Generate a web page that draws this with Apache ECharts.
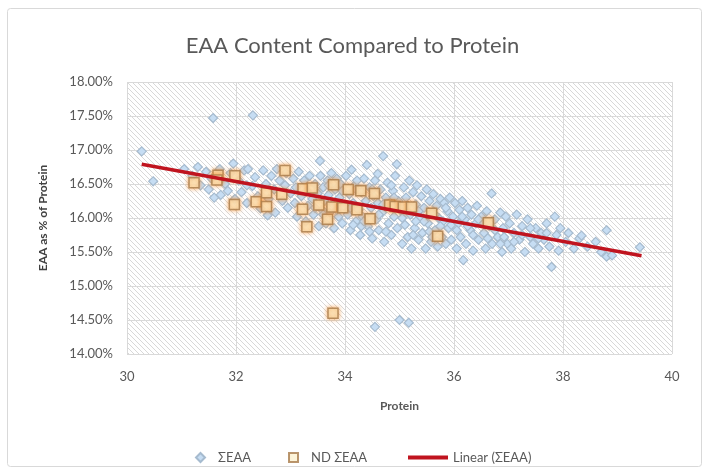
<!DOCTYPE html>
<html><head><meta charset="utf-8">
<script src="https://cdn.jsdelivr.net/npm/echarts@6/dist/echarts.min.js"></script>
<style>html,body{margin:0;padding:0;background:#fff}#c{width:705px;height:470px}</style>
</head><body><div id="c"></div>
<script>
// ΣEAA : [Protein, EAA % of protein]
const sumEAA = [
[30.27,16.98],[30.48,16.54],[31.05,16.72],
[31.2,16.62],[31.3,16.75],[31.35,16.48],[31.45,16.68],[31.5,16.42],[31.55,16.58],[31.6,16.30],[31.7,16.72],[31.72,16.34],[31.8,16.50],[31.85,16.40],[31.9,16.66],[31.95,16.80],[31.98,16.28],[31.58,17.47],
[32.05,16.55],[32.1,16.38],[32.15,16.70],[32.2,16.22],[32.22,16.72],[32.3,16.47],[32.31,17.51],[32.35,16.60],[32.4,16.32],[32.45,16.14],[32.5,16.70],[32.55,16.50],[32.6,16.28],[32.65,16.62],[32.7,16.42],[32.72,16.08],[32.8,16.55],[32.85,16.25],[32.9,16.48],[32.92,16.66],[32.95,16.15],[33.0,16.36],[32.58,16.04],[32.75,16.72],[32.2,16.48],
[33.05,16.58],[33.08,16.22],[33.1,16.45],[33.12,16.02],[33.15,16.68],[33.2,16.32],[33.25,16.55],[33.28,15.95],[33.3,16.40],[33.32,16.18],[33.35,16.62],[33.4,16.28],[33.42,16.05],[33.45,16.50],[33.5,16.36],[33.52,15.88],[33.54,16.84],[33.55,16.62],[33.58,16.12],[33.6,16.45],[33.62,16.25],[33.65,15.92],[33.68,16.55],[33.7,16.34],[33.72,16.08],[33.75,16.66],[33.78,16.20],[33.8,15.85],[33.82,16.42],[33.85,16.58],[33.88,16.02],[33.9,16.30],[33.92,16.50],[33.95,15.92],[33.98,16.18],
[33.6,16.05],[33.7,16.48],[33.85,16.12],[33.95,16.40],[33.45,16.15],
[34.02,16.62],[34.05,16.05],[34.08,16.35],[34.1,15.82],[34.12,16.71],[34.15,16.22],[34.18,16.48],[34.2,15.95],[34.22,16.55],[34.25,16.12],[34.28,15.75],[34.3,16.38],[34.32,16.02],[34.35,16.58],[34.38,16.25],[34.4,16.78],[34.42,15.88],[34.45,16.45],[34.48,16.15],[34.5,15.70],[34.52,16.32],[34.55,16.55],[34.58,15.98],[34.6,16.22],[34.62,15.82],[34.65,16.42],[34.68,16.08],[34.7,16.91],[34.72,15.65],[34.75,16.30],[34.78,16.52],[34.8,15.92],[34.82,16.18],[34.85,15.75],[34.88,16.40],[34.9,16.02],[34.92,16.62],[34.95,16.79],[34.96,15.85],[34.98,16.25],[34.4,16.0],[34.6,16.65],[34.3,15.88],[34.85,16.48],[34.55,14.40],
[34.1,16.15],[34.2,16.42],[34.35,15.95],[34.5,16.42],[34.62,16.05],[34.7,16.2],[34.75,15.8],[34.9,16.3],[34.45,15.8],[34.15,15.9],
[35.02,16.12],[35.05,15.62],[35.08,16.45],[35.1,15.90],[35.12,16.30],[35.15,15.72],[35.18,16.55],[35.2,16.05],[35.22,15.55],[35.25,16.38],[35.28,15.85],[35.3,16.20],[35.32,16.48],[35.35,15.68],[35.38,16.02],[35.4,16.32],[35.42,15.78],[35.45,16.15],[35.48,15.55],[35.5,16.42],[35.52,15.92],[35.55,16.25],[35.58,15.65],[35.6,16.08],[35.62,16.35],[35.65,15.82],[35.68,16.18],[35.7,15.58],[35.72,16.0],[35.75,16.28],[35.78,15.72],[35.8,15.95],[35.82,16.22],[35.85,15.62],[35.88,16.1],[35.9,15.85],[35.92,16.3],[35.95,15.68],[35.98,16.02],[35.0,14.50],[35.17,14.46],
[35.05,16.0],[35.15,16.18],[35.25,15.75],[35.35,16.1],[35.45,15.95],[35.55,15.8],[35.65,16.05],[35.75,15.88],[35.85,16.15],[35.95,15.9],[35.3,15.95],[35.6,15.72],
[36.02,16.22],[36.05,15.55],[36.08,15.92],[36.1,16.12],[36.12,15.72],[36.15,16.25],[36.17,15.38],[36.2,15.98],[36.22,15.62],[36.25,16.15],[36.3,15.82],[36.32,16.05],[36.35,15.52],[36.4,15.92],[36.42,16.18],[36.45,15.68],[36.5,16.02],[36.55,15.78],[36.58,15.55],[36.6,16.1],[36.65,15.88],[36.69,16.36],[36.7,15.62],[36.75,15.98],[36.8,15.72],[36.85,16.08],[36.88,15.5],[36.9,15.85],[36.95,16.02],[36.98,15.62],
[36.05,15.82],[36.15,16.02],[36.25,15.88],[36.35,15.75],[36.45,15.98],[36.55,15.92],[36.62,15.7],[36.75,15.82],[36.85,15.62],[36.92,15.72],
[37.02,15.92],[37.05,15.55],[37.1,15.78],[37.15,16.05],[37.2,15.68],[37.25,15.88],[37.3,15.5],[37.35,15.98],[37.4,15.72],[37.45,15.62],[37.5,15.85],[37.55,15.55],[37.6,15.78],[37.65,15.68],[37.7,15.92],[37.75,15.58],[37.79,15.28],[37.85,16.02],[37.88,15.75],[37.92,15.52],[37.95,15.85],
[37.1,15.65],[37.25,15.75],[37.4,15.85],[37.55,15.7],[37.7,15.78],
[38.05,15.65],[38.1,15.78],[38.2,15.55],[38.3,15.7],[38.34,15.74],[38.45,15.58],[38.6,15.65],[38.7,15.5],[38.8,15.82],[38.8,15.43],[38.9,15.45],[39.41,15.57]
];
// ND ΣEAA
const ndSumEAA = [
[31.23,16.52],[31.67,16.63],[31.65,16.56],[31.98,16.62],[31.97,16.20],[32.37,16.24],[32.56,16.17],[32.56,16.37],[32.90,16.70],[32.84,16.35],[33.23,16.43],[33.22,16.13],[33.30,15.87],[33.40,16.44],[33.52,16.19],[33.68,15.98],[33.76,16.16],[33.79,16.49],[33.96,16.15],[34.06,16.42],[34.22,16.12],[34.29,16.40],[34.46,15.99],[34.54,16.36],[34.82,16.19],[34.92,16.17],[35.07,16.16],[35.22,16.16],[35.59,16.07],[35.70,15.73],[36.63,15.93],[33.78,14.60]
];
// Linear trend (ΣEAA) end points
const trendProtein = [30.27, 39.44];
const trendEAA = [16.79, 15.445];

const xMin = 30, xMax = 40, xStep = 2;
const yMin = 14, yMax = 18, yStep = 0.5;

// hatch pattern for plot background
const pc = document.createElement('canvas');
pc.width = 5; pc.height = 5;
const g = pc.getContext('2d');
g.fillStyle = '#ffffff'; g.fillRect(0,0,5,5);
g.fillStyle = '#d8d8d8';
for (let i = 0; i < 5; i++) g.fillRect(i, i, 1, 1);

const FONT = 'Lato, "Open Sans", sans-serif';
const chart = echarts.init(document.getElementById('c'), null, {renderer:'canvas'});
chart.setOption({
  animation: false,
  backgroundColor: '#ffffff',
  textStyle: {fontFamily: FONT},
  title: {text: 'EAA Content Compared to Protein', left: 'center', top: 30,
    textStyle: {fontFamily: FONT, fontSize: 22, fontWeight: 'normal', color: '#595959'}},
  graphic: [{type:'rect', left: 5, top: 6, shape:{width: 694, height: 458, r: 3},
    style:{fill:'none', stroke:'#d9d9d9', lineWidth:1}, silent:true, z:-10}],
  grid: {left: 127, right: 33, top: 82, bottom: 116, show: true, borderWidth: 0,
    backgroundColor: {image: pc, repeat: 'repeat'}},
  legend: [
    {data: ['ΣEAA', 'ND ΣEAA'], left: 190, top: 446, itemWidth: 9, itemHeight: 9, itemGap: 37,
      textStyle: {fontFamily: FONT, fontSize: 13, color: '#595959', padding: [0,0,0,8]}},
    {data: [{name: 'Linear (ΣEAA)', icon: 'rect'}], left: 403, top: 446, itemWidth: 40, itemHeight: 4,
      textStyle: {fontFamily: FONT, fontSize: 13, color: '#595959'}}
  ],
  xAxis: {type: 'value', min: xMin, max: xMax, interval: xStep,
    name: 'Protein', nameLocation: 'middle', nameGap: 46,
    nameTextStyle: {fontFamily: FONT, fontWeight: 'bold', fontSize: 12, color: '#595959'},
    axisLine: {show: false}, axisTick: {show: false},
    axisLabel: {margin: 16, fontSize: 13, color: '#595959', fontFamily: FONT},
    splitLine: {show: true, lineStyle: {color: '#d9d9d9', width: 1}}},
  yAxis: {type: 'value', min: yMin, max: yMax, interval: yStep,
    name: 'EAA as % of Protein', nameLocation: 'middle', nameGap: 78, nameRotate: 90,
    nameTextStyle: {fontFamily: FONT, fontWeight: 'bold', fontSize: 12, color: '#404040'},
    axisLine: {show: false}, axisTick: {show: false},
    axisLabel: {margin: 14, fontSize: 13, color: '#595959', fontFamily: FONT,
      formatter: v => v.toFixed(2) + '%'},
    splitLine: {show: true, lineStyle: {color: '#d9d9d9', width: 1}}},
  series: [
    {name: 'ΣEAA', type: 'scatter', data: sumEAA, symbol: 'diamond', symbolSize: 9, z: 2,
      itemStyle: {color: '#c6ddf3', borderColor: '#a6bbcf', borderWidth: 1.2, opacity: 1}},
    {name: 'ND ΣEAA', type: 'scatter', data: ndSumEAA, symbol: 'rect', symbolSize: 10, z: 3,
      itemStyle: {color: '#fdf1cf', borderColor: '#a87a4a', borderWidth: 1.5,
        shadowBlur: 4, shadowColor: 'rgba(245,140,40,0.9)'}},
    {name: 'Linear (ΣEAA)', type: 'line', z: 4, symbol: 'none',
      data: trendProtein.map((p, i) => [p, trendEAA[i]]),
      lineStyle: {color: '#c0141f', width: 3.5}, itemStyle: {color: '#c0141f'}}
  ]
});
</script></body></html>
